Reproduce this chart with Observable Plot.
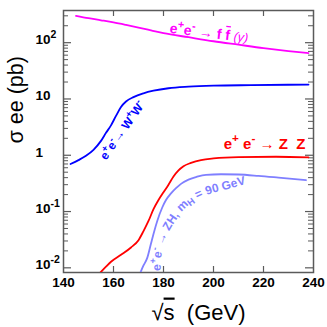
<!DOCTYPE html>
<html><head><meta charset="utf-8">
<script src="https://cdn.jsdelivr.net/npm/d3@7"></script>
<script src="https://cdn.jsdelivr.net/npm/@observablehq/plot@0.6"></script>
<style>body{margin:0;background:#fff} svg{display:block}</style>
</head><body><div id="chart"></div>
<script>
// ---- data ----
const ffX = [145,150,155,160,165,170,175,180,190,200,210,220,230,238];
const ffY = [300,272,250,229,207,186,166,148,125,106,92,80,71,65.5];
const wwX = [142.8,146,149,152,155,157,159,161,163,165,168,172,176,182,190,200,215,238];
const wwY = [0.70,0.82,0.98,1.25,1.8,2.5,3.4,5.0,7.2,9.0,10.8,12.6,14,15.5,16.5,17.2,17.6,18];
const zzX = [154.8,157,159,163,167,170,172,174,176,178,180,182,184,186,188,191,195,200,210,225,238];
const zzY = [0.0083,0.0105,0.0128,0.017,0.023,0.031,0.045,0.068,0.11,0.16,0.22,0.3,0.42,0.54,0.64,0.73,0.82,0.88,0.93,0.94,0.92];
const zhX = [170.8,172,173.5,175,176,177.5,179.5,181,183,185,187,190,193,197,203,210,218,226,237];
const zhY = [0.0083,0.011,0.015,0.027,0.04,0.068,0.118,0.16,0.21,0.26,0.31,0.37,0.41,0.45,0.46,0.455,0.43,0.40,0.36];
// guide for the curved ZH label (data units)
const zhGuideX = [178.8,179.2,180.0,181.2,183.2,185.2,187.6,190.4,193.2,198.8,204.8,212.0,220.0];
const zhGuideY = [0.0089,0.0165,0.0248,0.0358,0.0530,0.0725,0.1030,0.1350,0.1640,0.2080,0.2450,0.3000,0.36];

const xTicks = [140,160,180,200,220,240];
const yMajor = [0.01,0.1,1,10,100];
const yTickLabels = ["10^{-2}","10^{-1}","1","10","10^{2}"];
const yMinor = [0.02,0.03,0.04,0.05,0.06,0.07,0.08,0.09,0.2,0.3,0.4,0.5,0.6,0.7,0.8,0.9,2,3,4,5,6,7,8,9,20,30,40,50,60,70,80,90,200,300];

const xTitle = "√~{s}  (GeV)";
const yTitle = "σ ee (pb)";
const ffLabel = "e^{+}e^{-} → f ~{f} *{(γ)}";
const wwLabel = "e^{+}e^{-}→ W^{+}W^{-}";
const zzLabel = "e^{+} e^{-} → Z  Z";
const zhLabel = "e^{+}e^{-} → ZH, m_{H} = 90 GeV";

const rows = (xs, ys) => xs.map((x, i) => ({x, y: ys[i]}));

// ---- layout ----
const W = 327, H = 327, mL = 63, mR = 14, mT = 10, mB = 55;
const frameW = W - mL - mR, frameH = H - mT - mB;
const gray = "#5a5a5a";
const cFF = "#ff00ff", cWW = "#0000ff", cZZ = "#ff0000", cZH = "#7f7fff";

const plot = Plot.plot({
  width: W, height: H,
  marginLeft: mL, marginRight: mR, marginTop: mT, marginBottom: mB,
  x: {domain: [140, 240], axis: null},
  y: {type: "log", domain: [0.00826, 373], axis: null},
  style: {fontFamily: "'Liberation Sans', Arial, Helvetica, sans-serif", background: "white", color: "black"},
  marks: [
    // inward ticks
    Plot.ruleX(xTicks.slice(1, -1), {stroke: gray, strokeWidth: 1.2, insetTop: frameH - 6}),
    Plot.ruleX(xTicks.slice(1, -1), {stroke: gray, strokeWidth: 1.2, insetBottom: frameH - 6}),
    Plot.ruleY(yMajor, {stroke: gray, strokeWidth: 1.2, insetRight: frameW - 8}),
    Plot.ruleY(yMajor, {stroke: gray, strokeWidth: 1.2, insetLeft: frameW - 8}),
    Plot.ruleY(yMinor, {stroke: gray, strokeWidth: 1, insetRight: frameW - 5}),
    Plot.ruleY(yMinor, {stroke: gray, strokeWidth: 1, insetLeft: frameW - 5}),
    Plot.frame({stroke: gray, strokeWidth: 1.5}),
    // curves
    Plot.line(rows(ffX, ffY), {x: "x", y: "y", stroke: cFF, strokeWidth: 1.8, curve: "monotone-x", clip: true}),
    Plot.line(rows(wwX, wwY), {x: "x", y: "y", stroke: cWW, strokeWidth: 1.8, curve: "monotone-x", clip: true}),
    Plot.line(rows(zzX, zzY), {x: "x", y: "y", stroke: cZZ, strokeWidth: 1.8, curve: "monotone-x", clip: true}),
    Plot.line(rows(zhX, zhY), {x: "x", y: "y", stroke: cZH, strokeWidth: 1.8, curve: "monotone-x", clip: true}),
    Plot.line(rows(zhGuideX, zhGuideY), {x: "x", y: "y", stroke: "none", fill: "none", curve: "catmull-rom", ariaDescription: "zh-guide"}),
    // tick labels
    Plot.text(xTicks, {x: d => d, frameAnchor: "bottom", lineAnchor: "top", dy: 5, fontSize: 13.5, fontWeight: "bold", fill: "black"}),
    Plot.text(yMajor, {x: 140, y: d => d, text: (d, i) => yTickLabels[i], textAnchor: "start", dx: -28, dy: -3, fontSize: 13.5, fontWeight: "bold", fill: "black", ariaDescription: "rich-13.5"}),
    // axis titles
    Plot.text([xTitle], {frameAnchor: "bottom", lineAnchor: "middle", dx: 10, dy: 40, fontSize: 22, fill: "black", ariaDescription: "rich-22"}),
    Plot.text([yTitle], {frameAnchor: "left", lineAnchor: "middle", rotate: -90, dx: -47, dy: 2, fontSize: 21.5, fill: "black"}),
    // curve labels
    Plot.text([ffLabel], {x: 198.2, y: 148, rotate: 7, fontSize: 14, fontWeight: "bold", fill: cFF, ariaDescription: "rich-14"}),
    Plot.text([wwLabel], {x: 163.6, y: 2.75, rotate: -55, fontSize: 12, fontWeight: "bold", fill: cWW, ariaDescription: "rich-12"}),
    Plot.text([zzLabel], {x: 220.4, y: 1.585, fontSize: 15, fontWeight: "bold", fill: cZZ, ariaDescription: "rich-15"})
  ]
});

// rich text: ^{sup} _{sub} ~{overline} *{italic}
const SVGNS = "http://www.w3.org/2000/svg";
function richify(el, markup, fs) {
  el.textContent = "";
  const re = /([\^_~*])\{([^}]*)\}/g;
  let last = 0, m, shift = 0;
  const add = (str, o = {}) => {
    if (!str) return;
    const t = document.createElementNS(SVGNS, "tspan");
    t.textContent = str;
    const ns = o.shift || 0;
    if (ns !== shift) t.setAttribute("dy", shift - ns);
    if (o.size) t.setAttribute("font-size", o.size);
    if (o.over) t.setAttribute("text-decoration", "overline");
    if (o.italic) { t.setAttribute("font-style", "italic"); t.setAttribute("font-weight", "normal"); }
    shift = ns;
    el.appendChild(t);
  };
  while ((m = re.exec(markup))) {
    add(markup.slice(last, m.index));
    const k = m[1], s = m[2];
    if (k === "^") add(s, {shift: fs * 0.42, size: fs * 0.78});
    else if (k === "_") add(s, {shift: -fs * 0.2, size: fs * 0.78});
    else if (k === "~") add(s, {over: true});
    else add(s, {italic: true, size: fs * 0.9});
    last = re.lastIndex;
  }
  add(markup.slice(last));
}
const svg = d3.select(plot);
svg.selectAll('g[aria-description^="rich-"]').each(function() {
  const fs = +this.getAttribute("aria-description").slice(5);
  d3.select(this).selectAll("text").each(function() { richify(this, this.textContent, fs); });
});
// curved ZH label along guide path
const guide = svg.select('g[aria-description="zh-guide"] path');
if (!guide.empty()) {
  guide.attr("id", "zhpath");
  const guideG = guide.node().parentNode;
  const txt = document.createElementNS(SVGNS, "text");
  txt.setAttribute("font-size", 12);
  txt.setAttribute("font-weight", "bold");
  txt.setAttribute("fill", cZH);
  txt.setAttribute("text-anchor", "start");
  const tp = document.createElementNS(SVGNS, "textPath");
  tp.setAttribute("href", "#zhpath");
  tp.setAttribute("startOffset", 0);
  txt.appendChild(tp);
  guideG.appendChild(txt);
  richify(tp, zhLabel, 12);
}
document.getElementById("chart").appendChild(plot);
</script>
</body></html>
